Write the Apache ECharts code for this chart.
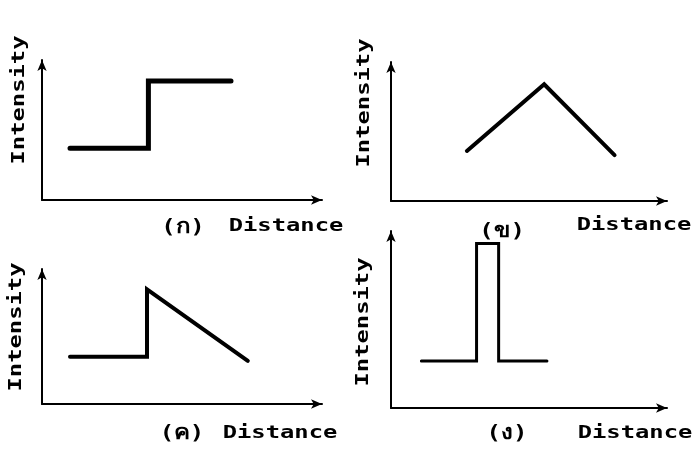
<!DOCTYPE html>
<html>
<head>
<meta charset="utf-8">
<script src="https://cdn.jsdelivr.net/npm/echarts@6/dist/echarts.min.js"></script>
<style>
  html, body { margin: 0; padding: 0; background: #fff; }
  #chart { width: 699px; height: 452px; }
</style>
</head>
<body>
<div id="chart"></div>
<script>
// four sketch profiles, same 0..10 scale on both axes
const stepProfile = [[1.0, 3.7], [3.8, 3.7], [3.8, 8.5], [6.75, 8.5]];
const peakProfile = [[2.75, 3.6], [5.55, 8.4], [8.1, 3.3]];
const sawProfile = [[1.0, 3.5], [3.75, 3.5], [3.75, 8.5], [7.35, 3.2]];
const pulseProfile = [[1.1, 2.65], [3.1, 2.65], [3.1, 9.3], [3.9, 9.3], [3.9, 2.65], [5.65, 2.65]];

const panelTags = ["(ก)", "(ข)", "(ค)", "(ง)"];
const xTitle = "Distance";
const yTitle = "Intensity";

const INK = "#000";
const MONO = "bold 17px 'DejaVu Sans Mono', monospace";
const TAG_FONT = "bold 20px 'DejaVu Sans Mono', 'Noto Sans', sans-serif";

// panel boxes (axis corner + arrow tips)
const boxes = [
  { left: 42,  top: 60,  width: 280, height: 140 },
  { left: 391, top: 62,  width: 276, height: 139 },
  { left: 42,  top: 269, width: 280, height: 135 },
  { left: 391, top: 231, width: 276, height: 177 }
];
const profiles = [stepProfile, peakProfile, sawProfile, pulseProfile];
const widths = [5, 4, 4, 3];

function axis(idx) {
  return {
    type: "value", gridIndex: idx, min: 0, max: 10,
    axisLine: { show: true, symbol: ["none", "arrow"], symbolSize: [7, 11],
      lineStyle: { color: INK, width: 2 } },
    axisTick: { show: false },
    axisLabel: { show: false },
    splitLine: { show: false }
  };
}

function txt(x, y, text, font, rot, sx) {
  return {
    type: "text", x: x, y: y, rotation: rot || 0, scaleX: sx || 1,
    style: { text: text, font: font, fill: INK,
      align: "center", verticalAlign: "middle",
      textAlign: "center", textVerticalAlign: "middle" }
  };
}

// label positions (px)
const tagPos = [[183, 228], [502, 232], [182, 434], [507, 434]];
const xTitlePos = [[286, 227], [634, 226], [280, 434], [635, 434]];
const yTitlePos = [[20, 100], [365, 103], [17, 327], [364, 322]];

const graphics = [];
for (let i = 0; i < 4; i++) {
  graphics.push(txt(tagPos[i][0], tagPos[i][1], panelTags[i], TAG_FONT, 0, 1.2));
  graphics.push(txt(xTitlePos[i][0], xTitlePos[i][1], xTitle, MONO, 0, 1.4));
  graphics.push(txt(yTitlePos[i][0], yTitlePos[i][1], yTitle, MONO, Math.PI / 2, 1.4));
}

const chart = echarts.init(document.getElementById("chart"), null, { renderer: "canvas" });
chart.setOption({
  animation: false,
  backgroundColor: "#fff",
  grid: boxes.map(b => Object.assign({ containLabel: false }, b)),
  xAxis: boxes.map((b, i) => axis(i)),
  yAxis: boxes.map((b, i) => axis(i)),
  series: profiles.map((p, i) => ({
    type: "line", xAxisIndex: i, yAxisIndex: i, data: p,
    showSymbol: false, symbol: "none",
    lineStyle: { color: INK, width: widths[i], join: "miter", cap: "round" }
  })),
  graphic: graphics
});
</script>
</body>
</html>
